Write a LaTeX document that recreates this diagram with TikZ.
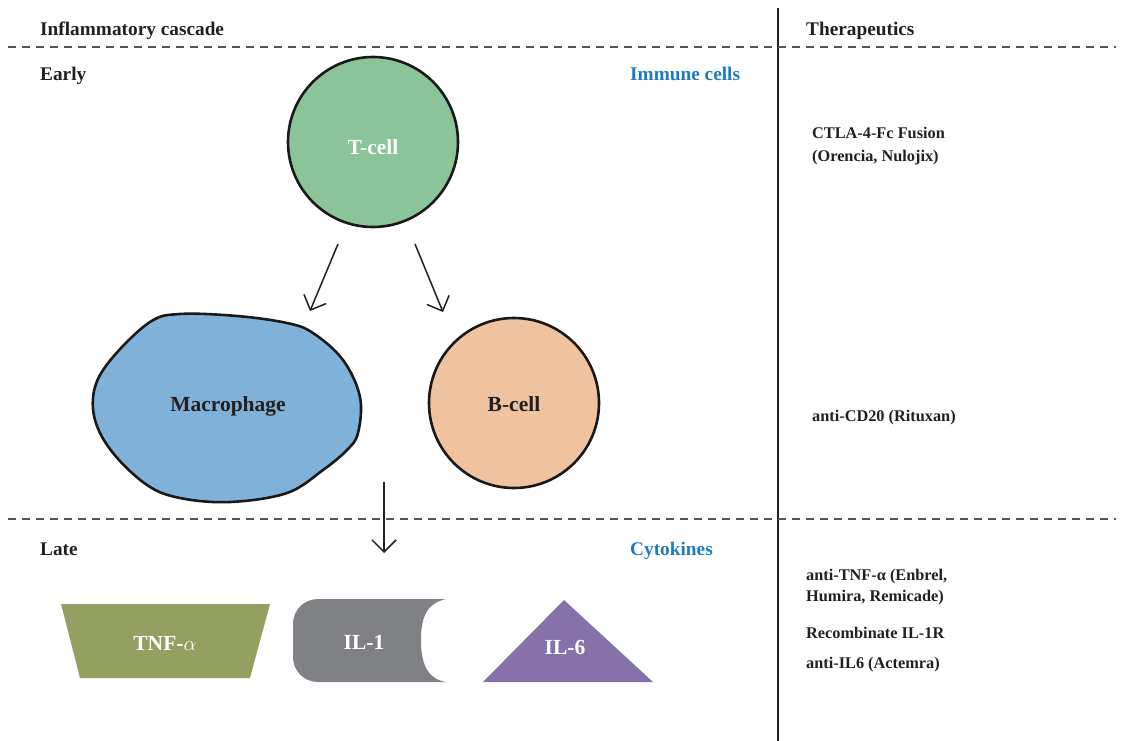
\documentclass[tikz,border=0pt]{standalone}
\usepackage{fontspec}
\setmainfont{Liberation Serif}
\usetikzlibrary{arrows.meta}
\definecolor{txt}{HTML}{231F20}
\definecolor{bluehead}{HTML}{1E7BC1}
\definecolor{tgreen}{HTML}{8CC499}
\definecolor{mblue}{HTML}{80B2D9}
\definecolor{bpeach}{HTML}{EFC2A0}
\definecolor{tnfgreen}{HTML}{93A062}
\definecolor{ilgray}{HTML}{808184}
\definecolor{ilpurple}{HTML}{8472A9}
\definecolor{dashgray}{HTML}{555555}
\tikzset{
  head/.style={anchor=base west, text=txt, font=\fontsize{19.3}{23}\bfseries\selectfont, inner sep=0},
  bluelbl/.style={anchor=base west, text=bluehead, font=\fontsize{19.3}{23}\bfseries\selectfont, inner sep=0},
  ther/.style={anchor=base west, text=txt, font=\fontsize{16.3}{22}\bfseries\selectfont, inner sep=0, align=left},
  cell/.style={circle, draw=black!90, line width=2.6pt, minimum size=170pt, inner sep=0},
  celllbl/.style={inner sep=0, font=\fontsize{21.5}{25}\bfseries\selectfont},
  shapelbl/.style={text=white, font=\fontsize{21.5}{25}\bfseries\selectfont, inner sep=0},
  arr/.style={-{Straight Barb[length=12pt,width=24pt]}, line width=1.5pt, draw=txt},
  sep/.style={dashed, dash pattern=on 8pt off 6pt, draw=dashgray, line width=1.4pt},
}
\begin{document}
\begin{tikzpicture}[x=1pt,y=-1pt]
\useasboundingbox (0,0) rectangle (1122,741);
% separators
\coordinate (v1) at (778,8);
\coordinate (v2) at (778,741);
\draw[line width=1.2pt, draw=txt] (v1) -- (v2);
\coordinate (h1a) at (8,47);
\coordinate (h1b) at (1116,47);
\coordinate (h2a) at (8,519);
\coordinate (h2b) at (1116,519);
\draw[sep] (h1a) -- (h1b);
\draw[sep] (h2a) -- (h2b);
% headings
\node[head] (hcasc) at (40,36) {Inflammatory cascade};
\node[head] (hther) at (806,36) {Therapeutics};
\node[head] (hearly) at (40,81) {Early};
\node[bluelbl] (himm) at (630,81) {Immune cells};
\node[head] (hlate) at (40,555) {Late};
\node[bluelbl] (hcyt) at (630,555) {Cytokines};
% cells
\node[cell, fill=tgreen] (tcell) at (373,142) {};
\node[celllbl, text=white] (tcelllbl) at (373,147) {T-cell};
\node[cell, fill=bpeach] (bcell) at (514,403) {};
\node[celllbl, text=txt] (bcelllbl) at (514,404) {B-cell};
\draw[line width=2.6pt, draw=black!90, fill=mblue] plot[smooth cycle, tension=0.6] coordinates {
  (150,322) (180,314) (237,316) (287,323) (313,333) (343,360) (360,397) (358,433)
  (347,450) (323,470) (287,493) (230,502) (180,498) (147,485) (113,453) (95,420) (95,387) (113,357)};
\node[celllbl, text=txt] (mac) at (228,406) {Macrophage};
% arrows
\coordinate (a1s) at (338,244);
\coordinate (a1e) at (310,311);
\coordinate (a2s) at (415,244);
\coordinate (a2e) at (443,312);
\coordinate (a3s) at (384,482);
\coordinate (a3e) at (384,553);
\draw[arr] (a1s) -- (a1e);
\draw[arr] (a2s) -- (a2e);
\draw[arr] (a3s) -- (a3e);
% cytokines
\fill[tnfgreen] (61,604) -- (270,604) -- (250,678) -- (80,678) -- cycle;
\node[shapelbl] (tnf) at (165,643) {TNF-$\alpha$};
\fill[ilgray] (446,599) -- (318,599) .. controls (304,599) and (293,610) .. (293,624)
  -- (293,657) .. controls (293,671) and (304,682) .. (318,682) -- (446,682)
  .. controls (428,679) and (421,665) .. (421,640)
  .. controls (421,615) and (428,603) .. (446,599) -- cycle;
\node[shapelbl] (il1) at (364,642) {IL-1};
\fill[ilpurple] (564,600) -- (653,682) -- (483,682) -- cycle;
\node[shapelbl] (il6) at (565,647) {IL-6};
% therapeutics
\node[ther] (t1) at (812,139) {CTLA-4-Fc Fusion};
\node[ther] (t1b) at (812,161) {(Orencia, Nulojix)};
\node[ther] (t2) at (812,421) {anti-CD20 (Rituxan)};
\node[ther] (t3) at (806,580) {anti-TNF-α (Enbrel,};
\node[ther] (t3b) at (806,601) {Humira, Remicade)};
\node[ther] (t4) at (806,638) {Recombinate IL-1R};
\node[ther] (t5) at (806,668) {anti-IL6 (Actemra)};
\end{tikzpicture}
\end{document}
